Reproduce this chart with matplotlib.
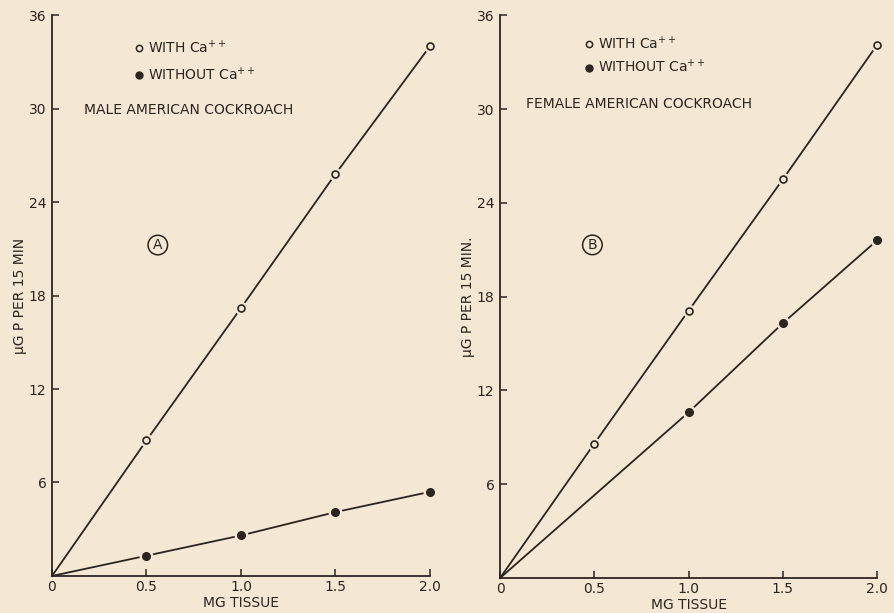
import matplotlib
matplotlib.use("Agg")
import matplotlib.pyplot as plt
from matplotlib.lines import Line2D

# ---- data ----
mg_tissue = [0.0, 0.5, 1.0, 1.5, 2.0]
male_with = [0.0, 8.7, 17.2, 25.8, 34.0]
male_without = [0.0, 1.3, 2.6, 4.1, 5.4]
female_with = [0.0, 8.6, 17.1, 25.5, 34.1]
female_mg_without = [0.0, 1.0, 1.5, 2.0]
female_without = [0.0, 10.6, 16.3, 21.6]

x_ticks = [0, 0.5, 1.0, 1.5, 2.0]
x_ticklabels = ["0", "0.5", "1.0", "1.5", "2.0"]
y_ticks = [6, 12, 18, 24, 30, 36]
y_ticklabels = ["6", "12", "18", "24", "30", "36"]

BG = "#f4e8d4"
INK = "#2b2521"
FONT = "DejaVu Sans"

plt.rcParams["font.family"] = [FONT]

fig = plt.figure(figsize=(8.95, 6.13), dpi=100, facecolor=BG)

def panel(rect, xw, yw, xwo, ywo, title, letter, ylabel, leg_anchor, leg_space,
          title_pos, letter_pos):
    ax = fig.add_axes(rect)
    ax.set_facecolor(BG)
    ax.set_xlim(0, 2.0)
    ax.set_ylim(0, 36)
    for s in ("top", "right"):
        ax.spines[s].set_visible(False)
    for s in ("left", "bottom"):
        ax.spines[s].set_color(INK)
        ax.spines[s].set_linewidth(1.3)
    ax.set_xticks(x_ticks)
    ax.set_xticklabels(x_ticklabels)
    ax.set_yticks(y_ticks)
    ax.set_yticklabels(y_ticklabels)
    ax.tick_params(direction="in", length=5, width=1.1, color=INK,
                   labelcolor=INK, labelsize=10, pad=4)
    ax.tick_params(axis="x", pad=3)

    # lines
    ax.plot(xw, yw, color=INK, lw=1.3, zorder=2, clip_on=False)
    ax.plot(xwo, ywo, color=INK, lw=1.3, zorder=2, clip_on=False)
    # halos (gaps around markers)
    ax.plot(xw[1:], yw[1:], ls="none", marker="o", ms=8.5, mfc=BG, mec=BG,
            zorder=3, clip_on=False)
    ax.plot(xwo[1:], ywo[1:], ls="none", marker="o", ms=9, mfc=BG, mec=BG,
            zorder=3, clip_on=False)
    # markers
    ax.plot(xw[1:], yw[1:], ls="none", marker="o", ms=5, mfc=BG, mec=INK,
            mew=1.2, zorder=4, clip_on=False)
    ax.plot(xwo[1:], ywo[1:], ls="none", marker="o", ms=5.5, mfc=INK, mec=INK,
            zorder=4, clip_on=False)

    handles = [
        Line2D([], [], ls="none", marker="o", ms=4.5, mfc=BG, mec=INK, mew=1.1),
        Line2D([], [], ls="none", marker="o", ms=5, mfc=INK, mec=INK),
    ]
    leg = ax.legend(handles, ["WITH Ca$^{++}$", "WITHOUT Ca$^{++}$"],
                    loc="upper left", bbox_to_anchor=leg_anchor,
                    frameon=False, fontsize=10, handlelength=0.6,
                    handletextpad=0.35, labelspacing=leg_space, borderaxespad=0)
    for t in leg.get_texts():
        t.set_color(INK)

    ax.text(title_pos[0], title_pos[1], title, transform=ax.transAxes,
            fontsize=10, color=INK, va="center", ha="left")
    ax.text(letter_pos[0], letter_pos[1], letter, transform=ax.transAxes,
            fontsize=10, color=INK, ha="center", va="center",
            bbox=dict(boxstyle="circle,pad=0.2", fc="none", ec=INK, lw=1.1))
    ax.set_xlabel("MG TISSUE", fontsize=10, color=INK, labelpad=1)
    ax.set_ylabel(ylabel, fontsize=10, color=INK, labelpad=1)
    return ax

axL = panel([0.0581, 0.0604, 0.4223, 0.915], mg_tissue, male_with,
            mg_tissue, male_without, "MALE AMERICAN COCKROACH", "A",
            "\u03bcG P PER 15 MIN", (0.205, 0.968), 0.7,
            (0.085, 0.83), (0.28, 0.59))
axR = panel([0.5587, 0.057, 0.4212, 0.918], mg_tissue, female_with,
            female_mg_without, female_without, "FEMALE AMERICAN COCKROACH", "B",
            "\u03bcG P PER 15 MIN.", (0.21, 0.975), 0.45,
            (0.07, 0.843), (0.245, 0.592))

fig.savefig("out.png", dpi=100, facecolor=BG)
